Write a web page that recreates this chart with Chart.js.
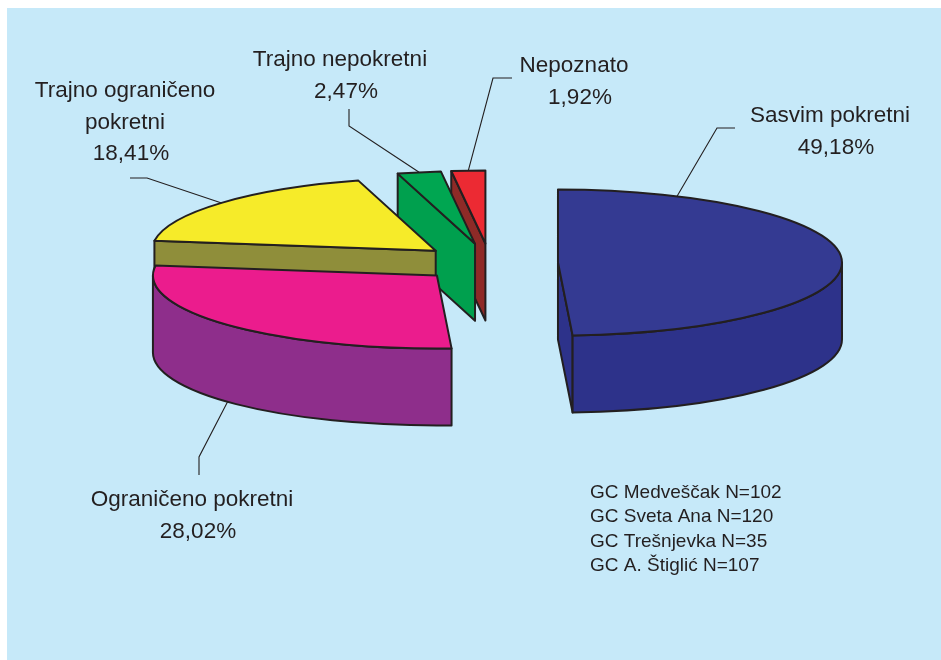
<!DOCTYPE html>
<html>
<head>
<meta charset="utf-8">
<title>Pokretnost</title>
<script src="https://cdn.jsdelivr.net/npm/chart.js@4/dist/chart.umd.min.js"></script>
<style>
  html, body { margin: 0; padding: 0; background: #ffffff; }
  #wrap { width: 941px; height: 660px; }
</style>
</head>
<body>
<div id="wrap"><canvas id="myChart" width="941" height="660"></canvas></div>
<script>
// values (percent)
var categories = ["Sasvim pokretni", "Ograničeno pokretni", "Trajno ograničeno pokretni", "Trajno nepokretni", "Nepoznato"];
var shares = [49.18, 28.02, 18.41, 2.47, 1.92];
var centres = ["GC Medveščak N=102", "GC Sveta Ana N=120", "GC Trešnjevka N=35", "GC A. Štiglić N=107"];

var topColors = ["#343a92", "#eb1c8d", "#f6eb29", "#00a651", "#ec2a33"];
var sideColors = ["#2d328a", "#8e2e8b", "#8f8e3a", "#00a04e", "#8e2a27"];
var OUTLINE = "#231f20";
var TEXT = "#231f20";

// 3d look
var TILT = 0.257;      // vertical squash of the pie
var DEPTH = 77;        // thickness in px
var PIE_Y = 263;       // screen y of the pie centre
var EXPLODE = [68, 72, 72, 76, 76];

// label boxes: centre x, first baseline, wrap width, leader elbow, where on the slice the leader ends
var labelBoxes = [
    {x: 833, y: 122, wrap: 240, elbow: [[735, 128], [717, 128]], at: 0.14},
    {x: 195, y: 506, wrap: 240, elbow: [[199, 475], [199, 457]], at: 0.5},
    {x: 128, y: 97, wrap: 190, elbow: [[130, 178], [147, 178]], at: 0.5},
    {x: 343, y: 66, wrap: 240, elbow: [[349, 109], [349, 126]], at: 0.5},
    {x: 577, y: 72, wrap: 240, elbow: [[512, 78], [493, 78]], at: 0.5}
];
var LINE_H = 31.5;
var LABEL_FONT = '22.5px "Liberation Sans", Arial, sans-serif';
var NOTE_FONT = '19px "Liberation Sans", Arial, sans-serif';

function getSlices(chart) {
    var arcs = chart.getDatasetMeta(0).data;
    return arcs.map(function(arc, i) {
        var p = arc.getProps(['x', 'y', 'startAngle', 'endAngle', 'outerRadius'], true);
        var mid = (p.startAngle + p.endAngle) / 2;
        return {
            i: i,
            a0: p.startAngle,
            a1: p.endAngle,
            mid: mid,
            rx: p.outerRadius,
            ry: p.outerRadius * TILT,
            cx: p.x + EXPLODE[i] * Math.cos(mid),
            cy: PIE_Y + EXPLODE[i] * Math.sin(mid) * TILT
        };
    });
}

function paint(ctx, fill) {
    ctx.fillStyle = fill;
    ctx.fill();
    ctx.stroke();
}

function drawSlice(ctx, s) {
    var h = DEPTH;
    ctx.lineWidth = 2;
    ctx.lineJoin = "round";
    ctx.strokeStyle = OUTLINE;

    // radial faces turned to the viewer
    [[s.a0, Math.cos(s.a0) < 0], [s.a1, Math.cos(s.a1) > 0]].forEach(function(f) {
        if (!f[1]) return;
        var px = s.cx + s.rx * Math.cos(f[0]);
        var py = s.cy + s.ry * Math.sin(f[0]);
        ctx.beginPath();
        ctx.moveTo(s.cx, s.cy);
        ctx.lineTo(px, py);
        ctx.lineTo(px, py + h);
        ctx.lineTo(s.cx, s.cy + h);
        ctx.closePath();
        paint(ctx, sideColors[s.i]);
    });

    // outer wall, front half only
    [[0, Math.PI], [2 * Math.PI, 3 * Math.PI], [-2 * Math.PI, -Math.PI]].forEach(function(r) {
        var a = Math.max(s.a0, r[0]), b = Math.min(s.a1, r[1]);
        if (b <= a) return;
        ctx.beginPath();
        ctx.ellipse(s.cx, s.cy, s.rx, s.ry, 0, a, b, false);
        ctx.lineTo(s.cx + s.rx * Math.cos(b), s.cy + s.ry * Math.sin(b) + h);
        ctx.ellipse(s.cx, s.cy + h, s.rx, s.ry, 0, b, a, true);
        ctx.closePath();
        paint(ctx, sideColors[s.i]);
    });

    // top
    ctx.beginPath();
    ctx.moveTo(s.cx, s.cy);
    ctx.ellipse(s.cx, s.cy, s.rx, s.ry, 0, s.a0, s.a1, false);
    ctx.closePath();
    paint(ctx, topColors[s.i]);
}

function wrapText(ctx, text, width) {
    var words = text.split(" "), lines = [], cur = "";
    words.forEach(function(w) {
        var t = cur ? cur + " " + w : w;
        if (cur && ctx.measureText(t).width > width) {
            lines.push(cur);
            cur = w;
        } else {
            cur = t;
        }
    });
    lines.push(cur);
    return lines;
}

var pie3d = {
    id: "pie3d",
    beforeDraw: function(chart) {
        var ctx = chart.ctx;
        ctx.save();
        ctx.fillStyle = "#c6e9f9";
        ctx.fillRect(7, 8, chart.width - 7, chart.height - 8);
        ctx.restore();
    },
    beforeDatasetsDraw: function(chart) {
        var ctx = chart.ctx;
        var slices = getSlices(chart);
        slices.sort(function(a, b) { return Math.sin(a.mid) - Math.sin(b.mid); });
        ctx.save();
        slices.forEach(function(s) { drawSlice(ctx, s); });
        ctx.restore();
        return false; // skip the flat pie
    },
    afterDraw: function(chart) {
        var ctx = chart.ctx;
        var slices = getSlices(chart);
        ctx.save();
        ctx.fillStyle = TEXT;
        ctx.strokeStyle = TEXT;
        ctx.lineWidth = 1.1;

        slices.forEach(function(s) {
            var box = labelBoxes[s.i];
            // leader line
            var a = s.a0 + box.at * (s.a1 - s.a0);
            var ex = s.cx + s.rx * Math.cos(a);
            var ey = s.cy + s.ry * Math.sin(a) + (Math.sin(a) > 0 ? DEPTH : 0);
            ctx.beginPath();
            ctx.moveTo(box.elbow[0][0], box.elbow[0][1]);
            ctx.lineTo(box.elbow[1][0], box.elbow[1][1]);
            ctx.lineTo(ex, ey);
            ctx.stroke();

            // text
            ctx.font = LABEL_FONT;
            ctx.textAlign = "center";
            ctx.textBaseline = "alphabetic";
            var lines = wrapText(ctx, categories[s.i], box.wrap);
            lines.forEach(function(l, k) {
                ctx.fillText(l, box.x - 3, box.y + k * LINE_H);
            });
            var pct = shares[s.i].toFixed(2).replace(".", ",") + "%";
            ctx.fillText(pct, box.x + 3, box.y + lines.length * LINE_H);
        });

        // sample sizes
        ctx.font = NOTE_FONT;
        ctx.textAlign = "left";
        centres.forEach(function(t, k) {
            ctx.fillText(t, 590, 498 + k * 24.3);
        });
        ctx.restore();
    }
};

var ctx = document.getElementById("myChart").getContext("2d");
var myChart = new Chart(ctx, {
    type: "pie",
    data: {
        labels: categories,
        datasets: [{
            data: shares,
            backgroundColor: topColors,
            borderWidth: 0
        }]
    },
    options: {
        responsive: false,
        animation: false,
        events: [],
        layout: {
            padding: {left: 206, right: 167, top: 46, bottom: 46}
        },
        plugins: {
            legend: {display: false},
            tooltip: {enabled: false}
        }
    },
    plugins: [pie3d]
});
</script>
</body>
</html>
